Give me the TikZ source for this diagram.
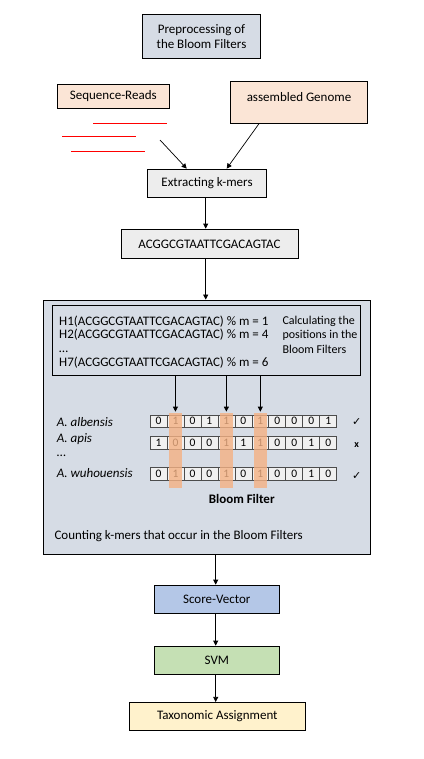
\documentclass[tikz,border=0pt]{standalone}
\usepackage{fontspec}
\setmainfont{Carlito}
\newfontfamily\symfont{DejaVu Sans}
\usepackage{tikz}
\usetikzlibrary{positioning,calc,arrows.meta}

\definecolor{prepfill}{HTML}{D6DCE5}
\definecolor{inputfill}{HTML}{FBE5D6}
\definecolor{stepfill}{HTML}{EDEDED}
\definecolor{scorefill}{HTML}{B4C7E7}
\definecolor{svmfill}{HTML}{C5E0B4}
\definecolor{taxfill}{HTML}{FFF2CC}
\definecolor{hlfill}{HTML}{F4B183}

\begin{document}
\begin{tikzpicture}[
    x=1pt, y=-1pt,
    font=\fontsize{13}{15}\selectfont,
    box/.style={draw, line width=0.8pt, inner sep=0pt, align=center},
    arrow/.style={-{Triangle[length=5pt,width=5pt]}, line width=0.7pt},
    bit/.style={draw=black!70, fill=black!6, line width=0.6pt, minimum width=16.97pt, minimum height=12.5pt, inner sep=0pt, font=\fontsize{11.5}{12}\selectfont},
    hl/.style={fill=hlfill, opacity=0.8},
    species/.style={anchor=west, font=\fontsize{13}{15}\selectfont\itshape},
    tick/.style={font=\fontsize{11}{12}\selectfont\symfont}
]
\useasboundingbox (0,0) rectangle (423,759);

% Define node positions
\node[box, fill=prepfill, minimum width=118.4pt, minimum height=44.4pt] (prep) at (201.5, 36.5) {Preprocessing of\\the Bloom Filters};
\node[box, fill=inputfill, minimum width=112pt, minimum height=24.4pt] (reads) at (113.3, 96.5) {Sequence-Reads};
\node[box, fill=inputfill, minimum width=137.4pt, text height=20pt, text depth=22.4pt] (genome) at (299, 102.5) {assembled Genome};
\node[box, fill=stepfill, minimum width=119.4pt, minimum height=28.4pt] (extract) at (207, 183.5) {Extracting k-mers};
\node[box, fill=stepfill, minimum width=177pt, minimum height=29.7pt] (kmer) at (209.5, 243.9) {ACGGCGTAATTCGACAGTAC};

% Bloom filter block
\node[box, fill=prepfill, minimum width=326.7pt, minimum height=254pt] (bfbox) at (206.65, 427) {};
\node[box, minimum width=308.4pt, minimum height=70pt] (hashbox) at (206.5, 340) {};
\node[anchor=north west, align=left, inner sep=0pt, font=\fontsize{13}{13.7}\selectfont] (hashes) at (59, 315.5)
    {H1(ACGGCGTAATTCGACAGTAC) \% m = 1\\H2(ACGGCGTAATTCGACAGTAC) \% m = 4\\\ldots\\H7(ACGGCGTAATTCGACAGTAC) \% m = 6};
\node[anchor=north west, align=left, inner sep=0pt, font=\fontsize{12}{14.5}\selectfont] (calc) at (282.3, 315.5)
    {Calculating the\\positions in the\\Bloom Filters};

% Bit rows
\foreach \r/\y/\bits in {1/421.2/{0,1,0,1,1,0,1,0,0,0,1}, 2/443/{1,0,0,0,1,1,1,0,0,1,0}, 3/473.9/{0,1,0,0,1,0,1,0,0,1,0}}
    \foreach \v [count=\c] in \bits
        \node[bit] (b-\r-\c) at ({150+(\c-0.5)*16.97}, \y) {\v};

\foreach \c in {2,5,7}
    \fill[hl] ({150+(\c-0.5)*16.97-6.2}, 412.7) rectangle ({150+(\c-0.5)*16.97+6.2}, 487.5);

\foreach \c in {2,5,7}
    \draw[arrow, shorten >=3pt] (b-1-\c.north |- hashbox.south) -- (b-1-\c.north);

\node[species] (alb) at (53.3, 422) {A. albensis};
\node[species] (api) at (53.3, 439) {A. apis};
\node[anchor=west] (dots) at (53.3, 456) {\ldots};
\node[species] (wuh) at (53.3, 472.7) {A. wuhouensis};

\node[tick] (ok1) at (356.7, 422) {✓};
\node[font=\fontsize{10}{11}\selectfont\bfseries] (no2) at (356.7, 445) {x};
\node[tick] (ok3) at (356.7, 476) {✓};

\node[font=\fontsize{13}{15}\selectfont\bfseries] (bflabel) at (241.7, 499) {Bloom Filter};
\node[anchor=west, inner sep=0pt] (count) at (54.3, 536) {Counting k-mers that occur in the Bloom Filters};

% Classification
\node[box, fill=scorefill, minimum width=125pt, minimum height=28.3pt] (score) at (216.8, 599.2) {Score-Vector};
\node[box, fill=svmfill, minimum width=125pt, minimum height=28.3pt] (svm) at (216.8, 660.2) {SVM};
\node[box, fill=taxfill, minimum width=176pt, minimum height=27.7pt] (tax) at (217.3, 716.2) {Taxonomic Assignment};

% Reads
\draw[red, line width=0.8pt] (93.3, 123) -- (167, 123);
\draw[red, line width=0.8pt] (62, 136.3) -- (136, 136.3);
\draw[red, line width=0.8pt] (71.3, 151) -- (145, 151);

% Draw edges
\coordinate (readsend) at (160, 140);
\coordinate (ax) at (205.7, 0);
\coordinate (bx) at (215.7, 0);
\draw[arrow] (readsend) -- (186.7, 168.6);
\draw[arrow] (259, 123.7) -- (226.7, 168.6);
\draw[arrow] (ax |- extract.south) -- (ax |- kmer.north);
\draw[arrow] (ax |- kmer.south) -- (ax |- bfbox.north);
\draw[arrow] (bx |- bfbox.south) -- (bx |- score.north);
\draw[arrow] (bx |- score.south) -- (bx |- svm.north);
\draw[arrow] (bx |- svm.south) -- (bx |- tax.north);

\end{tikzpicture}
\end{document}
